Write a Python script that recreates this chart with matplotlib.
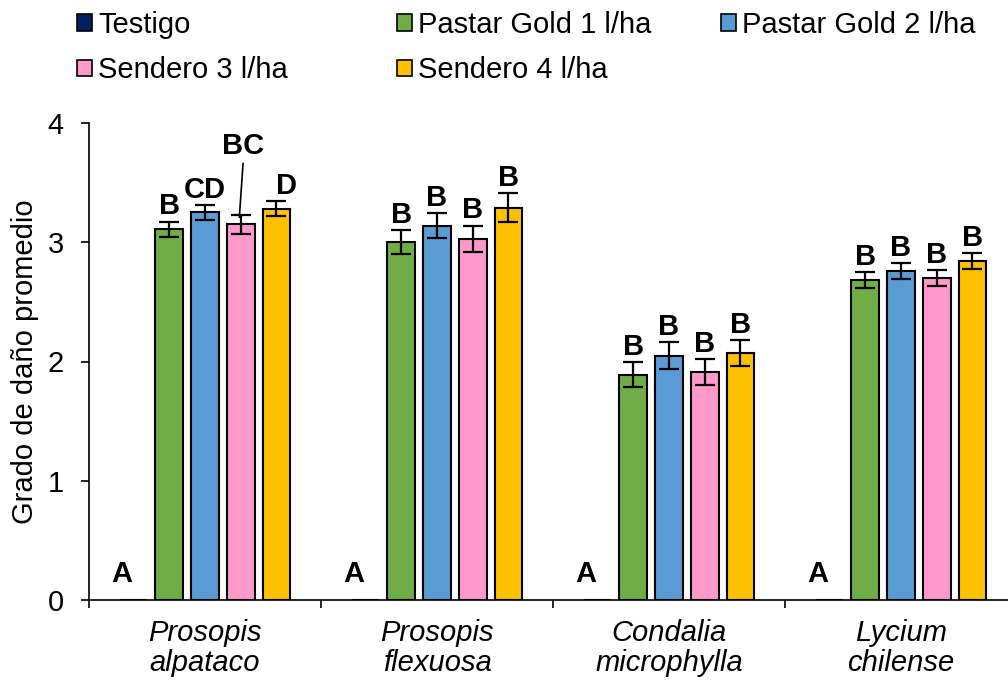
import matplotlib.pyplot as plt
import numpy as np
from matplotlib.patches import Patch

plt.rcParams['font.family'] = ['Liberation Sans', 'DejaVu Sans']

# Data
species = ['Prosopis\nalpataco', 'Prosopis\nflexuosa', 'Condalia\nmicrophylla', 'Lycium\nchilense']
treatments = ['Testigo', 'Pastar Gold 1 l/ha', 'Pastar Gold 2 l/ha', 'Sendero 3 l/ha', 'Sendero 4 l/ha']
colors = ['#002060', '#70AD47', '#5B9BD5', '#FF99CC', '#FFC000']

testigo = [0.0, 0.0, 0.0, 0.0]
pastar1 = [3.11, 3.00, 1.89, 2.68]
pastar2 = [3.25, 3.14, 2.05, 2.76]
sendero3 = [3.15, 3.03, 1.91, 2.70]
sendero4 = [3.28, 3.29, 2.07, 2.84]

err_testigo = [0, 0, 0, 0]
err_pastar1 = [0.063, 0.10, 0.105, 0.067]
err_pastar2 = [0.063, 0.105, 0.11, 0.067]
err_sendero3 = [0.08, 0.11, 0.11, 0.067]
err_sendero4 = [0.063, 0.12, 0.11, 0.067]

letters_testigo = ['A', 'A', 'A', 'A']
letters_pastar1 = ['B', 'B', 'B', 'B']
letters_pastar2 = ['CD', 'B', 'B', 'B']
letters_sendero3 = ['BC', 'B', 'B', 'B']
letters_sendero4 = ['D', 'B', 'B', 'B']

values = [testigo, pastar1, pastar2, sendero3, sendero4]
errors = [err_testigo, err_pastar1, err_pastar2, err_sendero3, err_sendero4]
letters = [letters_testigo, letters_pastar1, letters_pastar2, letters_sendero3, letters_sendero4]

FS = 21

fig = plt.figure(figsize=(10.08, 6.81), dpi=100)
ax = fig.add_axes([89/1008, 81/681, 928/1008, 477/681])

x = np.arange(len(species))
step = 0.154
width = 0.12

for i in range(5):
    pos = x + (i - 2) * step
    ax.bar(pos, values[i], width, color=colors[i], edgecolor='black', linewidth=1.5, zorder=2)
    if i > 0:
        ax.errorbar(pos, values[i], yerr=errors[i], fmt='none', ecolor='black',
                    elinewidth=1.6, capsize=7.5, capthick=1.6, zorder=3)
    for j in range(len(species)):
        lab = letters[i][j]
        if i == 0:
            ax.text(pos[j] - 0.05, 0.15, lab, ha='center', va='baseline',
                    fontsize=FS, fontweight='bold')
        elif lab == 'BC':
            top = values[i][j] + errors[i][j]
            ax.plot([pos[j] - 0.006, pos[j] + 0.01], [top - 0.02, 3.66], color='black', lw=1.2, zorder=4)
            ax.text(pos[j] + 0.01, 3.74, lab, ha='center', va='baseline', fontsize=FS, fontweight='bold')
        else:
            top = values[i][j] + errors[i][j]
            dx = 0.045 if lab == 'D' else 0.0
            ax.text(pos[j] + dx, top + 0.06, lab, ha='center', va='baseline',
                    fontsize=FS, fontweight='bold')

ax.set_xlim(-0.5, 3.5)
ax.set_ylim(0, 4)
ax.set_yticks([0, 1, 2, 3, 4])
ax.tick_params(axis='y', direction='out', length=6, width=1.2, labelsize=FS, pad=12)
ax.set_xticks(np.arange(-0.5, 3.6, 1.0))
ax.set_xticklabels([])
ax.tick_params(axis='x', which='major', direction='out', length=6, width=1.2)
ax.set_xticks(x, minor=True)
ax.set_xticklabels(species, minor=True, fontsize=FS, fontstyle='italic', linespacing=1.05)
ax.tick_params(axis='x', which='minor', length=0, pad=14)

for s in ['top', 'right']:
    ax.spines[s].set_visible(False)
for s in ['left', 'bottom']:
    ax.spines[s].set_linewidth(1.2)

ax.set_ylabel('Grado de daño promedio', fontsize=FS, labelpad=6)

# Legend laid out in three columns like the original
handles = [Patch(facecolor=c, edgecolor='black', linewidth=1.2) for c in colors]
columns = [[0, 3], [1, 4], [2]]
col_x = [77/1008, 397/1008, 721/1008]
for cx, idx in zip(col_x, columns):
    fig.legend([handles[k] for k in idx], [treatments[k] for k in idx],
               loc='upper left', bbox_to_anchor=(cx, 1 - 11/681), frameon=False,
               fontsize=FS, handlelength=0.5, handleheight=0.5, handletextpad=0.22,
               labelspacing=0.6, borderaxespad=0.0, borderpad=0.0)

fig.savefig('out.png', dpi=100)
